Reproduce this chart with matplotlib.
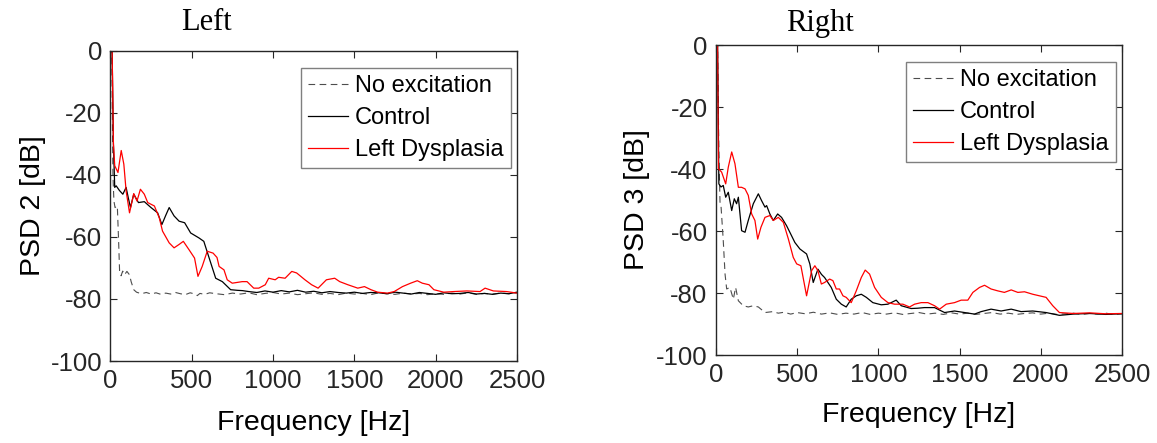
import numpy as np
import matplotlib.pyplot as plt

plt.rcParams.update({
    "font.family": ["Liberation Sans", "DejaVu Sans"],
    "axes.linewidth": 1.0,
    "axes.edgecolor": "#262626",
    "xtick.color": "#262626",
    "ytick.color": "#262626",
    "axes.unicode_minus": False,
})

# ---------------------------------------------------------------------------
# Data (frequency in Hz, PSD in dB)
# ---------------------------------------------------------------------------
# Left side, PSD 2
left_noexc_f = [0, 8, 15, 21, 28, 42, 50, 56, 65, 75, 86, 101, 117, 127, 143, 160, 190,
                220, 250, 280, 310, 340, 370, 400, 430, 460, 490, 520, 534, 550, 580,
                610, 650, 700, 750, 800, 850, 900, 950, 1000, 1050, 1100, 1150, 1200,
                1250, 1300, 1350, 1400, 1450, 1500, 1550, 1600, 1650, 1700, 1750, 1800,
                1850, 1900, 1950, 2000, 2050, 2100, 2150, 2200, 2250, 2300, 2350, 2400,
                2450, 2500]
left_noexc_db = [5, 0, -40, -48.4, -50.5, -50.0, -61.4, -71.1, -72.5, -71.0, -72.2, -71.1,
                 -72.2, -74.4, -77.0, -77.8, -78.3, -77.9, -78.4, -78.0, -78.5, -78.1,
                 -78.4, -77.9, -78.3, -78.6, -78.0, -78.4, -78.9, -78.2, -78.5, -78.0,
                 -78.3, -78.6, -78.1, -78.4, -78.0, -78.6, -78.2, -77.9, -78.4, -78.1,
                 -78.6, -78.3, -78.0, -78.5, -78.2, -78.6, -78.1, -78.4, -78.2, -78.6,
                 -78.0, -78.3, -78.5, -78.1, -78.4, -78.2, -78.6, -78.3, -78.5, -78.1,
                 -78.4, -78.0, -78.5, -78.2, -78.4, -78.1, -78.3, -78.0]

left_ctrl_f = [0, 10, 18, 26, 35, 55, 76, 96, 110, 123, 143, 172, 208, 249, 290, 316, 340,
               361, 391, 422, 456, 493, 544, 574, 607, 647, 688, 739, 780, 812, 850, 900,
               950, 1000, 1050, 1100, 1150, 1200, 1250, 1300, 1350, 1400, 1450, 1500, 1550,
               1600, 1650, 1700, 1750, 1800, 1850, 1900, 1950, 2000, 2050, 2100, 2150,
               2200, 2250, 2300, 2350, 2400, 2450, 2500]
left_ctrl_db = [5, 0, -30, -44.0, -43.5, -45.0, -46.2, -44.0, -47.5, -50.5, -46.2, -48.9,
                -48.6, -50.5, -52.2, -56.0, -53.0, -50.5, -53.2, -54.9, -55.4, -58.7,
                -60.3, -61.4, -66.8, -73.3, -74.4, -77.0, -77.2, -77.3, -77.6, -77.9,
                -77.4, -77.8, -77.3, -77.7, -77.2, -77.8, -77.5, -78.0, -77.6, -77.9,
                -78.1, -77.8, -78.2, -77.9, -78.0, -78.3, -77.8, -78.1, -78.4, -77.9,
                -78.2, -78.5, -78.0, -78.3, -78.2, -77.9, -78.4, -78.2, -78.5, -78.1,
                -78.3, -77.8]

left_dys_f = [0, 10, 18, 26, 46, 66, 82, 96, 117, 143, 163, 184, 208, 229, 270, 300, 320,
              361, 391, 422, 448, 483, 517, 538, 564, 595, 631, 655, 668, 698, 718, 749,
              810, 840, 881, 912, 952, 973, 1013, 1034, 1074, 1115, 1145, 1196, 1237, 1277,
              1328, 1379, 1410, 1460, 1521, 1562, 1602, 1643, 1704, 1745, 1796, 1846, 1887,
              1918, 1959, 1989, 2050, 2111, 2192, 2273, 2304, 2355, 2436, 2500]
left_dys_db = [5, 0, -30, -37.0, -39.2, -32.1, -36.5, -45.1, -52.2, -46.0, -48.4, -44.6,
               -46.2, -48.9, -50.0, -53.8, -58.1, -61.9, -63.5, -62.4, -61.4, -64.1,
               -66.8, -72.7, -69.5, -64.6, -65.2, -66.6, -69.5, -70.6, -73.8, -74.9,
               -74.4, -74.4, -76.5, -76.5, -75.4, -73.3, -73.8, -73.0, -73.3, -71.1,
               -71.6, -73.8, -75.4, -76.5, -73.8, -73.3, -74.4, -75.4, -76.5, -76.0,
               -77.0, -77.8, -78.1, -77.6, -76.0, -74.9, -74.1, -74.9, -75.4, -77.0,
               -77.8, -77.6, -77.4, -77.6, -76.5, -77.4, -77.6, -78.1]

# Right side, PSD 3
right_noexc_f = [0, 10, 18, 25, 30, 45, 56, 66, 86, 107, 121, 138, 168, 199, 230, 261, 302,
                 350, 384, 420, 460, 500, 550, 600, 650, 700, 750, 800, 850, 900, 950, 1000,
                 1050, 1100, 1150, 1200, 1250, 1300, 1350, 1400, 1450, 1500, 1550, 1600,
                 1650, 1700, 1750, 1800, 1850, 1900, 1950, 2000, 2050, 2100, 2150, 2200,
                 2250, 2300, 2350, 2400, 2450, 2500]
right_noexc_db = [5, 0, -35, -50.7, -51.0, -63.1, -73.9, -78.7, -78.2, -82.0, -78.2, -82.5,
                  -84.1, -84.5, -84.1, -84.5, -86.3, -86.0, -86.5, -86.2, -86.8, -86.3,
                  -86.7, -86.2, -86.8, -86.4, -86.9, -86.5, -86.8, -86.3, -86.9, -86.5,
                  -86.8, -86.4, -86.9, -86.6, -86.3, -86.8, -86.5, -86.9, -86.4, -86.8,
                  -86.5, -86.9, -86.6, -86.3, -86.8, -86.5, -86.9, -86.6, -86.4, -86.8,
                  -86.5, -86.9, -86.7, -86.5, -86.9, -86.6, -86.8, -86.5, -86.9, -86.7]

right_ctrl_f = [0, 10, 18, 31, 45, 60, 76, 97, 113, 127, 138, 158, 179, 199, 230, 261, 281,
                302, 312, 332, 353, 380, 404, 435, 455, 486, 517, 558, 578, 599, 628, 650,
                669, 710, 741, 772, 802, 833, 864, 895, 926, 966, 1018, 1059, 1110, 1141,
                1202, 1243, 1284, 1346, 1408, 1469, 1531, 1592, 1633, 1694, 1756, 1818,
                1879, 1951, 2033, 2115, 2200, 2300, 2400, 2500]
right_ctrl_db = [5, 0, -44.8, -45.8, -45.3, -49.1, -47.5, -53.4, -49.6, -51.2, -49.1, -59.9,
                 -60.4, -56.6, -51.2, -48.0, -50.2, -52.3, -51.8, -54.5, -56.6, -54.5,
                 -55.6, -58.3, -60.4, -63.7, -65.8, -67.4, -70.6, -76.6, -72.3, -74.0,
                 -75.0, -78.2, -82.0, -83.6, -84.5, -82.0, -80.9, -80.4, -81.4, -83.1,
                 -83.8, -83.6, -82.3, -84.1, -85.0, -84.9, -84.7, -84.7, -86.3, -85.8,
                 -86.3, -86.8, -86.0, -85.2, -85.8, -85.2, -86.0, -85.8, -86.3, -87.2,
                 -86.8, -86.6, -86.9, -86.7]

right_dys_f = [0, 10, 15, 35, 60, 76, 97, 117, 138, 158, 179, 199, 220, 240, 257, 277, 302,
               332, 353, 384, 415, 446, 476, 497, 523, 558, 589, 609, 628, 649, 669, 700,
               720, 741, 761, 782, 802, 833, 864, 895, 919, 946, 977, 1018, 1059, 1100,
               1151, 1192, 1223, 1264, 1305, 1346, 1377, 1418, 1469, 1510, 1551, 1582, 1623,
               1654, 1694, 1735, 1776, 1818, 1859, 1900, 1951, 2033, 2074, 2115, 2200,
               2300, 2400, 2500]
right_dys_db = [5, 0, -39.9, -41.0, -44.8, -39.4, -34.5, -38.3, -45.9, -45.9, -46.4, -48.5,
                -54.5, -56.6, -62.6, -58.8, -55.6, -55.0, -56.6, -55.6, -57.2, -62.6,
                -68.5, -70.6, -71.2, -80.9, -72.8, -71.2, -72.8, -77.1, -76.6, -75.5,
                -76.0, -78.7, -78.7, -80.9, -81.4, -83.1, -79.3, -75.0, -72.6, -73.9,
                -78.2, -81.4, -83.1, -83.6, -83.6, -84.5, -83.6, -83.1, -83.1, -84.1,
                -85.2, -83.6, -83.1, -82.3, -82.3, -79.8, -78.2, -77.5, -78.7, -79.3,
                -79.8, -79.0, -79.8, -79.6, -80.4, -81.4, -84.1, -86.3, -86.6, -86.4,
                -86.7, -86.6]

COLOR_NOEXC = "#4d4d4d"
COLOR_CTRL = "black"
COLOR_DYS = "#ff0000"

fig = plt.figure(figsize=(11.57, 4.43), dpi=100)
ax_l = fig.add_axes([0.0955, 0.1851, 0.3513, 0.6998])
ax_r = fig.add_axes([0.6188, 0.1986, 0.3509, 0.6998])

panels = [
    (ax_l, left_noexc_f, left_noexc_db, left_ctrl_f, left_ctrl_db, left_dys_f, left_dys_db,
     "PSD 2 [dB]", -0.19, -0.20),
    (ax_r, right_noexc_f, right_noexc_db, right_ctrl_f, right_ctrl_db, right_dys_f,
     right_dys_db, "PSD 3 [dB]", -0.195, -0.194),
]

for ax, nf, nd, cf, cd, df, dd, ylab, ylx, xly in panels:
    ax.plot(nf, nd, color=COLOR_NOEXC, linestyle=(0, (6, 4)), linewidth=0.8,
            label="No excitation")
    ax.plot(cf, cd, color=COLOR_CTRL, linewidth=0.9, label="Control")
    ax.plot(df, dd, color=COLOR_DYS, linewidth=0.9, label="Left Dysplasia")

    ax.set_xlim(0, 2500)
    ax.set_ylim(-100, 0)
    ax.set_xticks([0, 500, 1000, 1500, 2000, 2500])
    ax.set_yticks([-100, -80, -60, -40, -20, 0])
    ax.tick_params(direction="in", top=True, right=True, length=5, width=0.8,
                   labelsize=18.5, pad=6)

    ax.set_xlabel("Frequency [Hz]", fontsize=20.5)
    ax.set_ylabel(ylab, fontsize=20.5)
    ax.xaxis.set_label_coords(0.5, xly)
    ax.yaxis.set_label_coords(ylx, 0.5)
    ax.xaxis.label.set_va("center")
    ax.yaxis.label.set_va("center")

    leg = ax.legend(loc="upper right", bbox_to_anchor=(0.985, 0.945), fontsize=17,
                    frameon=True, fancybox=False, edgecolor="#7f7f7f", framealpha=1,
                    handlelength=1.7, handletextpad=0.3, borderpad=0.3,
                    labelspacing=0.42, borderaxespad=0)
    leg.get_frame().set_linewidth(1.0)

fig.text(206 / 1157, 1 - 23 / 443, "Left", ha="center", va="center",
         fontsize=22, family=["Liberation Serif", "DejaVu Serif"])
fig.text(820 / 1157, 1 - 23 / 443, "Right", ha="center", va="center",
         fontsize=22, family=["Liberation Serif", "DejaVu Serif"])

fig.savefig("out.png", dpi=100)
